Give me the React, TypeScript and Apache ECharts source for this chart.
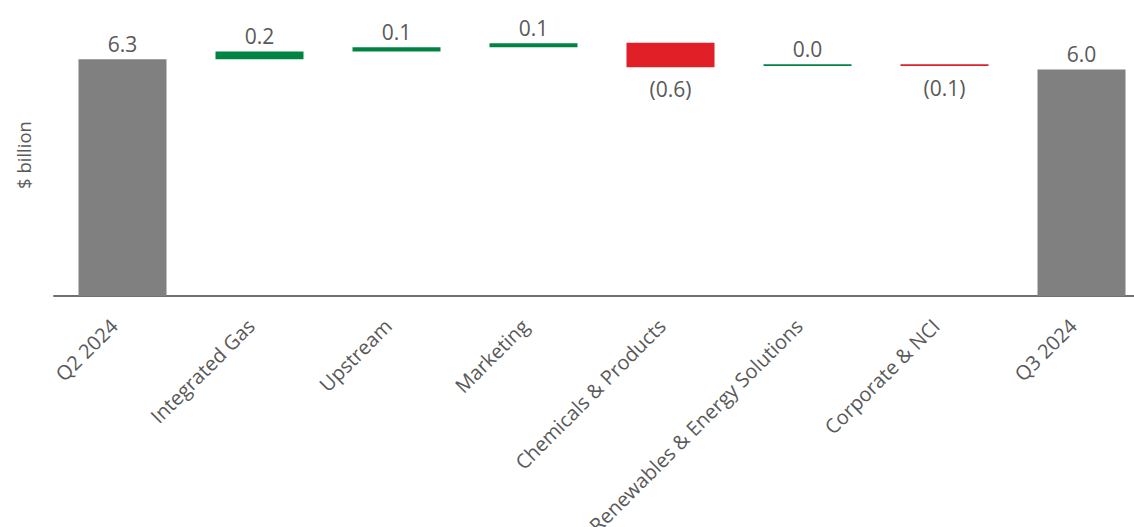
import React, { useEffect, useRef } from "react";
import * as echarts from "echarts";

const categories = [
  "Q2 2024",
  "Integrated Gas",
  "Upstream",
  "Marketing",
  "Chemicals & Products",
  "Renewables & Energy Solutions",
  "Corporate & NCI",
  "Q3 2024",
];
// invisible base of each floating bar ($ billion)
const bases = [0, 6.3, 6.51, 6.62, 6.09, 6.12, 6.12, 0];
// visible height of each bar ($ billion)
const heights = [6.3, 0.21, 0.11, 0.11, 0.65, 0.045, 0.045, 6.03];
const kinds = ["total", "up", "up", "up", "down", "up", "down", "total"];
const valueLabels = ["6.3", "0.2", "0.1", "0.1", "(0.6)", "0.0", "(0.1)", "6.0"];

const COLORS: Record<string, string> = {
  total: "#808080",
  up: "#008443",
  down: "#E01F26",
};
const FONT = "'Open Sans', sans-serif";
const TEXT = "#595959";

export default function App() {
  const ref = useRef<HTMLDivElement>(null);
  useEffect(() => {
    if (!ref.current) return;
    const chart = echarts.init(ref.current, undefined, { renderer: "svg" });
    chart.setOption({
      animation: false,
      backgroundColor: "#ffffff",
      grid: {
        left: 54,
        right: -16,
        top: 33,
        bottom: 231,
        containLabel: false,
        outerBoundsMode: "none",
      },
      xAxis: {
        type: "category",
        data: categories,
        axisLine: { show: true, lineStyle: { color: "#707070", width: 2 } },
        axisTick: { show: false },
        axisLabel: {
          interval: 0,
          rotate: 45,
          fontFamily: FONT,
          fontSize: 20,
          color: TEXT,
          margin: 18,
          padding: [0, 12, 0, 0],
        },
      },
      yAxis: {
        type: "value",
        min: 0,
        max: 7,
        show: false,
        splitLine: { show: false },
      },
      graphic: [
        {
          type: "text",
          x: 23,
          y: 155,
          rotation: Math.PI / 2,
          style: {
            text: "$ billion",
            fontFamily: FONT,
            fontSize: 18.5,
            fill: TEXT,
            align: "center",
            verticalAlign: "middle",
          },
        },
      ],
      series: [
        {
          type: "bar",
          stack: "wf",
          barWidth: 88,
          silent: true,
          itemStyle: { color: "transparent" },
          data: bases,
        },
        {
          type: "bar",
          stack: "wf",
          barWidth: 88,
          z: 3,
          data: heights.map((h, i) => ({
            value: h,
            itemStyle: { color: COLORS[kinds[i]] },
            label: {
              show: true,
              position: kinds[i] === "down" ? "bottom" : "top",
              distance: kinds[i] === "down" ? 11 : 5,
              formatter: valueLabels[i],
              fontFamily: FONT,
              fontSize: 21,
              color: TEXT,
            },
          })),
        },
      ],
    });
    return () => chart.dispose();
  }, []);
  return (
    <div
      ref={ref}
      style={{ position: "fixed", left: 0, top: 0, width: 1134, height: 527, background: "#fff" }}
    />
  );
}
